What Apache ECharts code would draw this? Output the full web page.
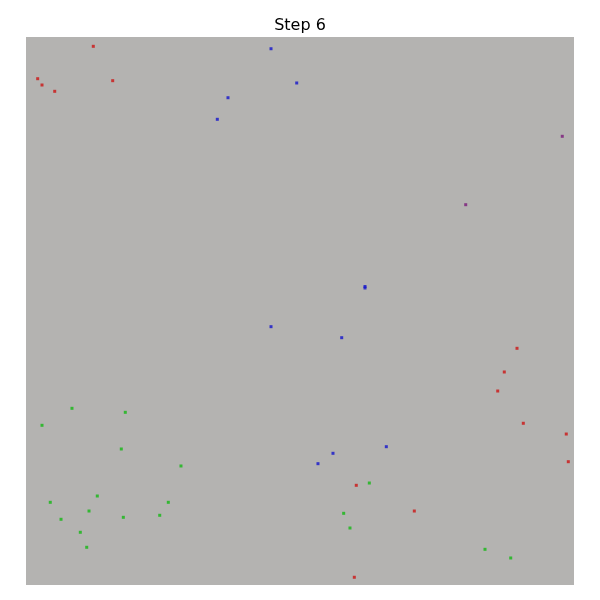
<!DOCTYPE html>
<html>
<head>
<meta charset="utf-8">
<script src="https://cdn.jsdelivr.net/npm/echarts@6/dist/echarts.min.js"></script>
<style>html,body{margin:0;padding:0;background:#fff}#c{width:600px;height:600px}</style>
</head>
<body>
<div id="c"></div>
<script>
const titleText = "Step 6";
const redPoints = [
  [12.28,98.30],[2.13,92.39],[2.92,91.24],[5.24,90.09],[15.82,92.03],
  [90.75,29.51],[98.59,27.55],[98.96,22.50],[60.27,18.19],[70.86,13.50],
  [59.91,1.41],[89.60,43.19],[87.28,38.87],[86.08,35.40]
];
const bluePoints = [
  [44.71,97.86],[49.40,91.61],[36.86,88.92],[34.91,84.98],
  [61.86,54.47],[61.86,54.20],[44.71,47.14],[57.61,45.13],
  [56.02,24.03],[53.28,22.14],[65.75,25.24]
];
const purplePoints = [
  [97.86,81.88],[80.24,69.40]
];
const greenPoints = [
  [8.39,32.24],[18.12,31.51],[2.92,29.14],[17.39,24.82],[28.28,21.72],
  [13.01,16.24],[4.43,15.09],[25.97,15.09],[11.50,13.50],[24.40,12.72],
  [6.39,11.99],[17.76,12.35],[9.91,9.62],[11.08,6.88],
  [62.65,18.61],[57.97,13.08],[59.12,10.40],[83.76,6.51],[88.45,4.93]
];
function mk(name, data, color) {
  return {name, type:'scatter', data, symbol:'rect', symbolSize:3,
    itemStyle:{color}, silent:true, animation:false};
}
const chart = echarts.init(document.getElementById('c'), null, {renderer:'canvas'});
chart.setOption({
  animation:false,
  backgroundColor:'#ffffff',
  title:{text:titleText, left:'center', top:13,
    textStyle:{fontFamily:'DejaVu Sans', fontSize:16, fontWeight:'normal', color:'#000'}},
  grid:{left:26, top:37, width:548, height:548, show:true, backgroundColor:'#b4b3b1', borderWidth:0},
  xAxis:{type:'value', min:0, max:100, show:false},
  yAxis:{type:'value', min:0, max:100, show:false},
  series:[
    mk('red', redPoints, '#cc1414'),
    mk('blue', bluePoints, '#1414cc'),
    mk('purple', purplePoints, '#7a1a7a'),
    mk('green', greenPoints, '#14b814')
  ]
});
</script>
</body>
</html>
